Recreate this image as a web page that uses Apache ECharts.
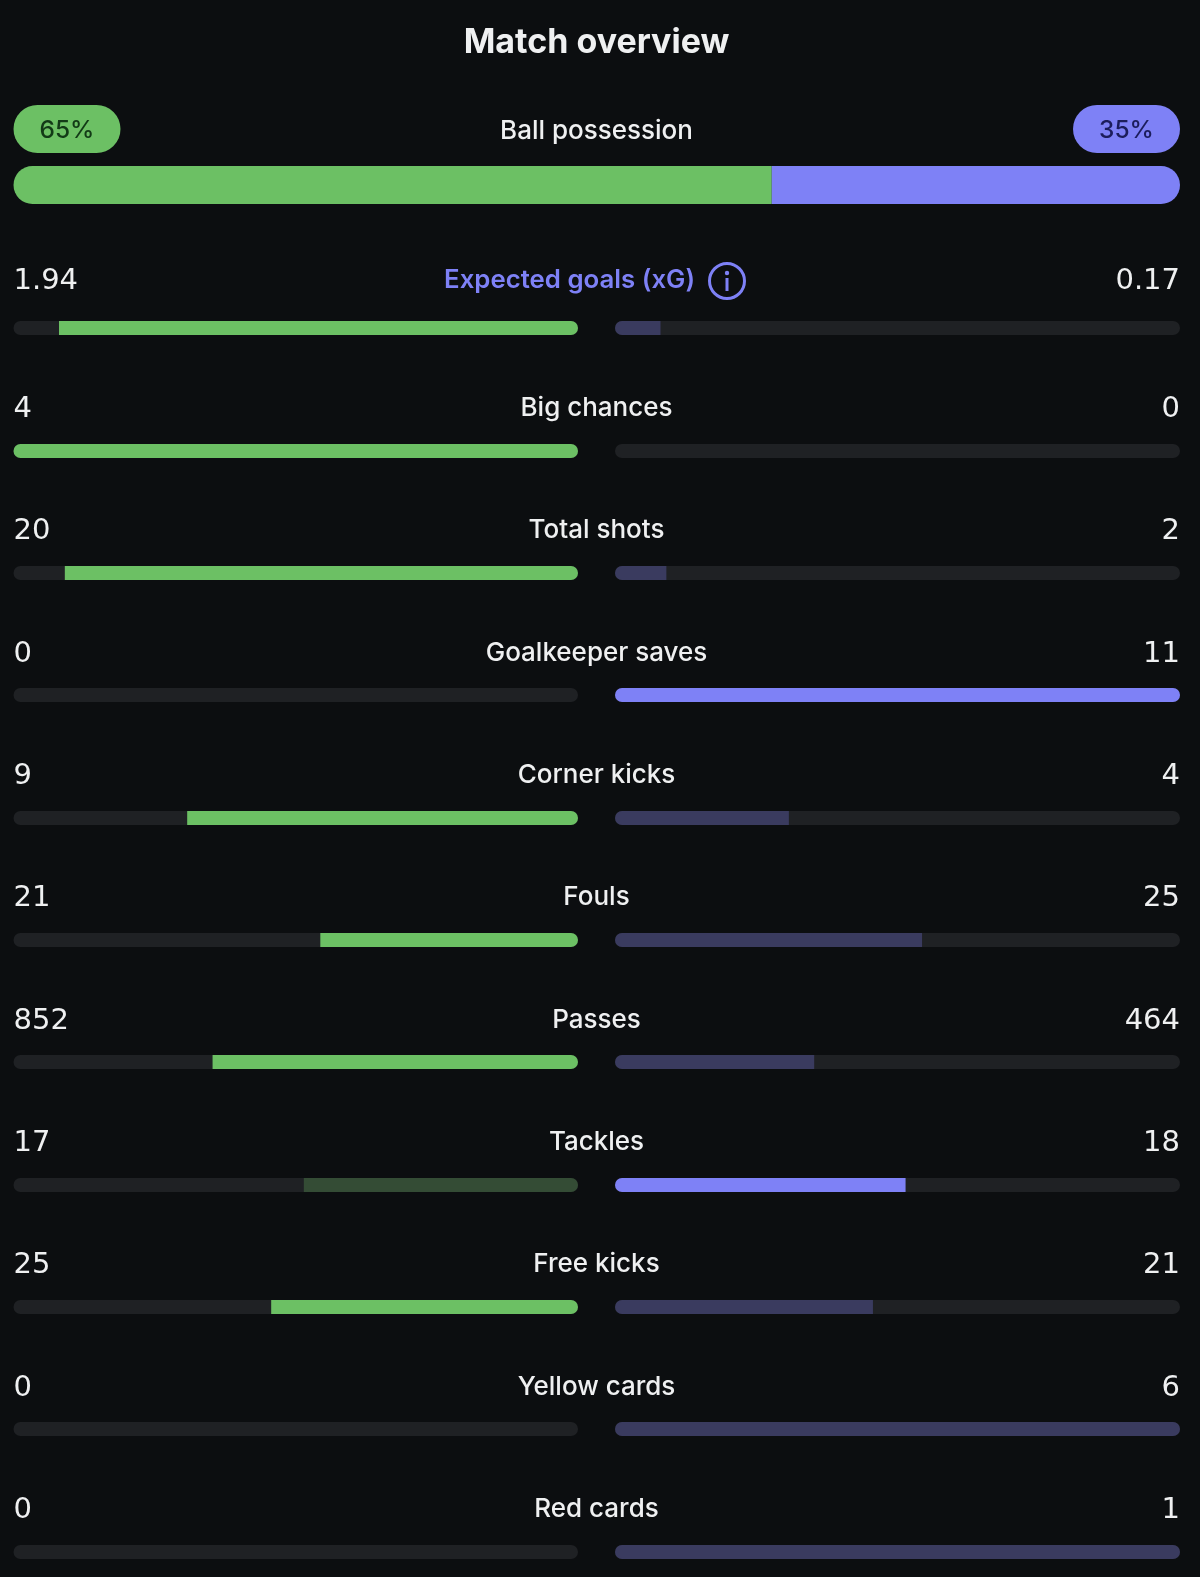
<!DOCTYPE html>
<html>
<head>
<meta charset="utf-8">
<style>html,body{margin:0;padding:0;background:#0c0e10}#chart{width:1200px;height:1577px}</style>
<script src="https://cdn.jsdelivr.net/npm/echarts@6/dist/echarts.min.js"></script>
</head>
<body>
<div id="chart"></div>
<script>
// Match statistics
const possessionLabel = 'Ball possession';
const possessionHome = 65;
const possessionAway = 35;
const statNames = ['Expected goals (xG)', 'Big chances', 'Total shots', 'Goalkeeper saves', 'Corner kicks', 'Fouls', 'Passes', 'Tackles', 'Free kicks', 'Yellow cards', 'Red cards'];
const homeValues = [1.94, 4, 20, 0, 9, 21, 852, 17, 25, 0, 0];
const awayValues = [0.17, 0, 2, 11, 4, 25, 464, 18, 21, 6, 1];
// Which side is drawn at full brightness in each row
const leadingSide = ['home', 'home', 'home', 'away', 'home', 'home', 'home', 'away', 'home', 'home', 'home'];

// Palette and layout
const FONT = 'Inter, "Noto Sans", sans-serif';
const NUM_FONT = '"DejaVu Sans", Inter, sans-serif';
const BG = '#0c0e10', TRACK = '#1f2124', TEXT = '#eff0f1';
const GREEN = '#6cc064', GREEN_DIM = '#344c35';
const PURPLE = '#7e81f6', PURPLE_DIM = '#3a3b5f';
const LEFT_X = 13.5, LEFT_END = 578, RIGHT_X = 615, RIGHT_END = 1180;
const ROW_BAR_H = 14;
const barCentres = [328, 451, 573, 695, 818, 940, 1062, 1185, 1307, 1429, 1552];
const textCentres = [280, 408, 530, 653, 775, 897, 1020, 1142, 1264, 1387, 1509];

const grids = [], xAxes = [], yAxes = [], series = [], graphics = [];

function addGrid(left, right, top, height, max, inverse) {
  const idx = grids.length;
  grids.push({ left: left, width: right - left, top: top, height: height, containLabel: false });
  xAxes.push({ type: 'value', gridIndex: idx, min: 0, max: max, inverse: inverse, show: false });
  yAxes.push({ type: 'category', gridIndex: idx, data: ['v'], show: false });
  return idx;
}

function addText(text, x, y, opts) {
  graphics.push({
    type: 'text', x: x, y: y, silent: true,
    style: Object.assign({ text: text, fill: TEXT, font: '500 26px ' + FONT, textAlign: 'center', textVerticalAlign: 'middle' }, opts || {})
  });
}

// Possession bar: two stacked segments on one axis
const possIdx = addGrid(LEFT_X, RIGHT_END, 166, 38, possessionHome + possessionAway, false);
series.push({
  type: 'bar', xAxisIndex: possIdx, yAxisIndex: possIdx, stack: 'poss', barWidth: '100%', silent: true,
  data: [possessionHome], itemStyle: { color: GREEN, borderRadius: [19, 0, 0, 19] }
});
series.push({
  type: 'bar', xAxisIndex: possIdx, yAxisIndex: possIdx, stack: 'poss', barWidth: '100%', silent: true,
  data: [possessionAway], itemStyle: { color: PURPLE, borderRadius: [0, 19, 19, 0] }
});

// One mirrored pair of bars per statistic, each filled to its share of the row total
statNames.forEach(function (name, i) {
  const total = homeValues[i] + awayValues[i];
  const top = barCentres[i] - ROW_BAR_H / 2;
  const homeIdx = addGrid(LEFT_X, LEFT_END, top, ROW_BAR_H, total, true);
  const awayIdx = addGrid(RIGHT_X, RIGHT_END, top, ROW_BAR_H, total, false);
  // A bar that fills its whole track is rounded at both ends
  const homeRadius = homeValues[i] === total ? 7 : [0, 7, 7, 0];
  const awayRadius = awayValues[i] === total ? 7 : [7, 0, 0, 7];
  series.push({
    type: 'bar', xAxisIndex: homeIdx, yAxisIndex: homeIdx, barWidth: '100%', silent: true,
    showBackground: true, backgroundStyle: { color: TRACK, borderRadius: 7 },
    data: [homeValues[i]],
    itemStyle: { color: leadingSide[i] === 'home' ? GREEN : GREEN_DIM, borderRadius: homeRadius }
  });
  series.push({
    type: 'bar', xAxisIndex: awayIdx, yAxisIndex: awayIdx, barWidth: '100%', silent: true,
    showBackground: true, backgroundStyle: { color: TRACK, borderRadius: 7 },
    data: [awayValues[i]],
    itemStyle: { color: leadingSide[i] === 'away' ? PURPLE : PURPLE_DIM, borderRadius: awayRadius }
  });

  const y = textCentres[i];
  addText(String(homeValues[i]), LEFT_X, y + 1.5, { textAlign: 'left', font: '400 29px ' + NUM_FONT });
  addText(String(awayValues[i]), RIGHT_END, y + 1.5, { textAlign: 'right', font: '400 29px ' + NUM_FONT });
  if (i === 0) {
    addText(name, 695, y, { textAlign: 'right', fill: PURPLE, font: '600 25.8px ' + FONT });
  } else {
    addText(name, 596.5, y);
  }
});

// Info icon beside the expected goals label
graphics.push({ type: 'circle', shape: { cx: 727, cy: 281, r: 17.5 }, silent: true, style: { fill: 'none', stroke: PURPLE, lineWidth: 3 } });
graphics.push({ type: 'circle', shape: { cx: 727, cy: 273, r: 2.2 }, silent: true, style: { fill: PURPLE } });
graphics.push({ type: 'rect', shape: { x: 725.5, y: 278, width: 3, height: 13 }, silent: true, style: { fill: PURPLE } });

// Title, possession heading and percentage pills
addText('Match overview', 596.5, 43, { font: '700 34px ' + FONT });
addText(possessionLabel, 596.5, 131);
graphics.push({ type: 'rect', shape: { x: LEFT_X, y: 105, width: 107, height: 48, r: 24 }, silent: true, style: { fill: GREEN } });
graphics.push({ type: 'rect', shape: { x: RIGHT_END - 107, y: 105, width: 107, height: 48, r: 24 }, silent: true, style: { fill: PURPLE } });
addText(possessionHome + '%', LEFT_X + 53.5, 131, { fill: '#123a16', font: '500 24.5px ' + FONT });
addText(possessionAway + '%', RIGHT_END - 53.5, 131, { fill: '#1c1d5c', font: '500 24.5px ' + FONT });

const chart = echarts.init(document.getElementById('chart'), null, { renderer: 'canvas' });
chart.setOption({
  backgroundColor: BG,
  animation: false,
  grid: grids,
  xAxis: xAxes,
  yAxis: yAxes,
  series: series,
  graphic: { elements: graphics }
});
</script>
</body>
</html>
